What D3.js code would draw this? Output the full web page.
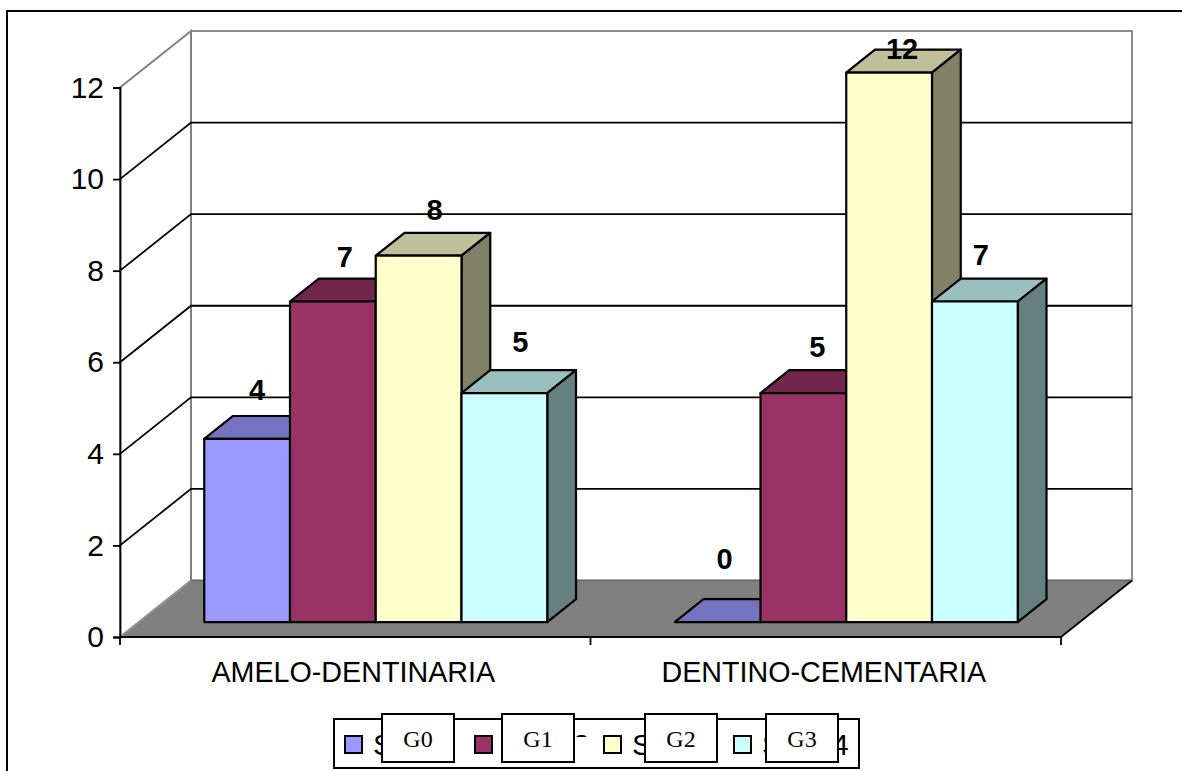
<!DOCTYPE html>
<html>
<head>
<meta charset="utf-8">
<style>
html, body { margin: 0; padding: 0; background: #fff; overflow: hidden; }
svg { display: block; }
text { font-family: "Liberation Sans", Arial, sans-serif; fill: #000; }
</style>
<script src="https://cdnjs.cloudflare.com/ajax/libs/d3/7.8.5/d3.min.js"></script>
</head>
<body>
<svg id="chart" width="1182" height="771"></svg>
<script>
// Chart data
const categories = ["AMELO-DENTINARIA", "DENTINO-CEMENTARIA"];
const seriesNames = ["Serie1", "Serie2", "Serie3", "Serie4"];
const groupNames = ["G0", "G1", "G2", "G3"];
const serie1 = [4, 0];
const serie2 = [7, 5];
const serie3 = [8, 12];
const serie4 = [5, 7];
const yTicks = [0, 2, 4, 6, 8, 10, 12];
const seriesValues = [serie1, serie2, serie3, serie4];

// Face colours per series: front, top, side
const frontColors = ["#9999FF", "#993366", "#FFFFCC", "#CCFFFF"];
const topColors = ["#7373BF", "#73264D", "#BFBF99", "#99BFBF"];
const sideColors = ["#4D4D80", "#4D1A33", "#808066", "#668080"];

// Small hand adjustments for the value labels, per category then per series
const labelNudge = [
  [[-2, -3], [0, 2], [4, 0], [4, -5]],
  [[-5, -17], [2, 0], [1, 22], [-6, 0]]
];

// Oblique projection of the 3D box: depth 0 is the front, 1 is the back wall
const depthX = d3.scaleLinear().domain([0, 1]).range([0, 71]);
const depthY = d3.scaleLinear().domain([0, 1]).range([0, -56.5]);
const x0 = d3.scaleBand().domain(categories).range([120, 1061]);
const y = d3.scaleLinear().domain([0, 12]).range([637, 87.5]);
const barBand = d3.scaleBand().domain(seriesNames).range([0, 343]);
const barFront = 0.265, barBack = 0.67, groupShift = 20.5;

const px = (x, d) => x + depthX(d);
const py = (v, d) => y(v) + depthY(d);
const poly = pts => pts.map(p => p.join(",")).join(" ");

const svg = d3.select("#chart");
const font = "Liberation Sans";

// Outer frame, open on the right and at the bottom
svg.append("path").attr("d", "M7,771V11H1182")
  .attr("fill", "none").attr("stroke", "#000").attr("stroke-width", 2);

const xL = x0.range()[0], xR = x0.range()[1];
const yMax = 12, yMin = 0;

// Walls
svg.append("polygon")
  .attr("points", poly([[px(xL,1),py(yMax,1)],[px(xR,1),py(yMax,1)],[px(xR,1),py(yMin,1)],[px(xL,1),py(yMin,1)]]))
  .attr("fill", "#fff").attr("stroke", "#8c8c8c").attr("stroke-width", 2);
svg.append("polygon")
  .attr("points", poly([[px(xL,0),py(yMax,0)],[px(xL,1),py(yMax,1)],[px(xL,1),py(yMin,1)],[px(xL,0),py(yMin,0)]]))
  .attr("fill", "#fff").attr("stroke", "#808080").attr("stroke-width", 2);

// Gridlines along the side and back walls
const gridTicks = yTicks.filter(t => t > 0 && t < 12);
svg.append("g").selectAll("path").data(gridTicks).join("path")
  .attr("d", t => `M${px(xL,0)},${py(t,0)}L${px(xL,1)},${py(t,1)}L${px(xR,1)},${py(t,1)}`)
  .attr("fill", "none").attr("stroke", "#000").attr("stroke-width", 1.8);

// Floor
svg.append("polygon")
  .attr("points", poly([[px(xL,0),py(0,0)],[px(xL,1),py(0,1)],[px(xR,1),py(0,1)],[px(xR,0),py(0,0)]]))
  .attr("fill", "#808080");
svg.append("path")
  .attr("d", `M${px(xL,1)},${py(0,1)}L${px(xR,1)},${py(0,1)}`)
  .attr("stroke", "#666").attr("stroke-width", 1.5);
svg.append("path")
  .attr("d", `M${px(xL,0)},${py(0,0)}L${px(xL,1)},${py(0,1)}`)
  .attr("stroke", "#999").attr("stroke-width", 1.5);
svg.append("path")
  .attr("d", `M${px(xR,0)},${py(0,0)}L${px(xR,1)},${py(0,1)}`)
  .attr("stroke", "#000").attr("stroke-width", 1.8);

// Value axis
const yAxis = d3.axisLeft(y).tickValues(yTicks).tickSize(7).tickPadding(9);
const gy = svg.append("g").attr("transform", `translate(${xL},0)`).call(yAxis);
gy.selectAll("path,line").attr("stroke", "#000").attr("stroke-width", 1.8);
gy.selectAll("text").attr("font-family", font).attr("font-size", 30).attr("fill", "#000");

// Category axis: ticks sit on the band edges
const gx = svg.append("g");
gx.append("line").attr("x1", xL).attr("x2", xR).attr("y1", y(0)).attr("y2", y(0))
  .attr("stroke", "#000").attr("stroke-width", 2.2);
gx.selectAll("line.tick").data([xL, x0(categories[1]), xR]).join("line")
  .attr("class", "tick")
  .attr("x1", d => d).attr("x2", d => d).attr("y1", y(0)).attr("y2", y(0) + 8)
  .attr("stroke", "#000").attr("stroke-width", 1.8);
gx.selectAll("text").data(categories).join("text")
  .attr("x", d => x0(d) + x0.bandwidth() / 2 - 2)
  .attr("y", 682)
  .attr("text-anchor", "middle")
  .attr("font-size", 28.7)
  .text(d => d);

// Bars, left to right so each front face covers its neighbour's side
const edgeStyle = sel => sel.attr("stroke", "#000").attr("stroke-width", 2.2).attr("stroke-linejoin", "round");
const labels = [];
categories.forEach((cat, c) => {
  const left = x0(cat) + (x0.bandwidth() - barBand.range()[1]) / 2 + groupShift - depthX(barFront);
  seriesNames.forEach((name, s) => {
    const v = seriesValues[s][c];
    const a = left + barBand(name), b = a + barBand.bandwidth();
    const g = svg.append("g");
    g.append("polygon").call(edgeStyle).attr("fill", topColors[s])
      .attr("points", poly([[px(a,barFront),py(v,barFront)],[px(a,barBack),py(v,barBack)],[px(b,barBack),py(v,barBack)],[px(b,barFront),py(v,barFront)]]));
    if (v > 0) {
      g.append("polygon").call(edgeStyle).attr("fill", sideColors[s])
        .attr("points", poly([[px(b,barFront),py(v,barFront)],[px(b,barBack),py(v,barBack)],[px(b,barBack),py(0,barBack)],[px(b,barFront),py(0,barFront)]]));
      g.append("polygon").call(edgeStyle).attr("fill", frontColors[s])
        .attr("points", poly([[px(a,barFront),py(v,barFront)],[px(b,barFront),py(v,barFront)],[px(b,barFront),py(0,barFront)],[px(a,barFront),py(0,barFront)]]));
    }
    labels.push({
      v,
      x: px(a + barBand.bandwidth() / 2, barFront) + 12 + labelNudge[c][s][0],
      y: py(v, barFront) - 36 + labelNudge[c][s][1]
    });
  });
});

// Value labels go on top of every bar
svg.append("g").selectAll("text").data(labels).join("text")
  .attr("x", d => d.x).attr("y", d => d.y)
  .attr("text-anchor", "middle")
  .attr("font-size", 29).attr("font-weight", "bold")
  .text(d => d.v);

// Legend
const legend = svg.append("g");
legend.append("rect").attr("x", 334).attr("y", 719).attr("width", 525).attr("height", 49)
  .attr("fill", "#fff").attr("stroke", "#000").attr("stroke-width", 2);
const swatchX = d3.scaleOrdinal().domain(seriesNames).range([345, 475, 604, 734]);
legend.selectAll("rect.swatch").data(seriesNames).join("rect")
  .attr("class", "swatch")
  .attr("x", d => swatchX(d)).attr("y", 736).attr("width", 17).attr("height", 17)
  .attr("fill", (d, i) => frontColors[i]).attr("stroke", "#000").attr("stroke-width", 2);
legend.selectAll("text").data(seriesNames).join("text")
  .attr("x", d => swatchX(d) + 28).attr("y", 754.5)
  .attr("font-size", 30)
  .text(d => d);
// White patches over the tails of the first two legend entries
legend.append("rect").attr("x", 454).attr("y", 730).attr("width", 16).attr("height", 30).attr("fill", "#fff");
legend.append("rect").attr("x", 574).attr("y", 737).attr("width", 20).attr("height", 24).attr("fill", "#fff");

// Group tags laid over the legend
const tagX = d3.scaleOrdinal().domain(groupNames).range([382, 502, 645, 766]);
const tags = svg.append("g").selectAll("g").data(groupNames).join("g")
  .attr("transform", d => `translate(${tagX(d)},714)`);
tags.append("rect").attr("width", 72).attr("height", 48)
  .attr("fill", "#fff").attr("stroke", "#000").attr("stroke-width", 2);
tags.append("text").attr("x", 36).attr("y", 33)
  .attr("text-anchor", "middle")
  .style("font-family", '"Liberation Serif", "Times New Roman", serif')
  .attr("font-size", 24)
  .text(d => d);
</script>
</body>
</html>
